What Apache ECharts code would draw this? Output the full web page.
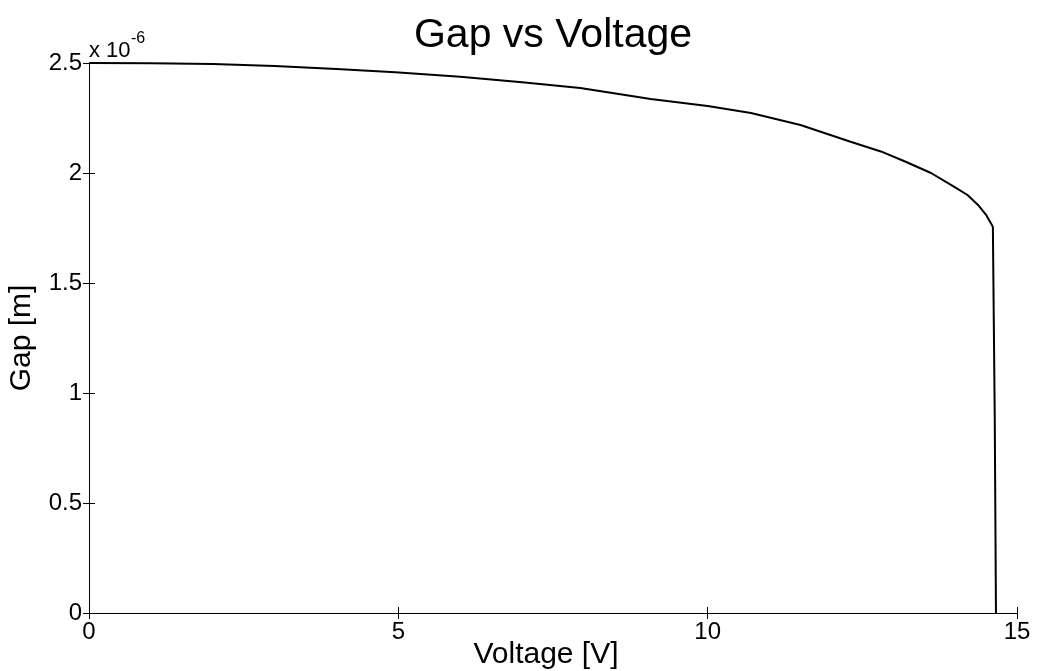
<!DOCTYPE html>
<html>
<head>
<meta charset="utf-8">
<script src="https://cdn.jsdelivr.net/npm/echarts@6/dist/echarts.min.js"></script>
<style>
html,body{margin:0;padding:0;background:#fff;}
#chart{width:1037px;height:671px;}
</style>
</head>
<body>
<div id="chart"></div>
<script>
// 电压 [V] 与间隙 (单位 1e-6 m)
var voltage = [0, 1, 2, 3, 4, 4.95, 6, 7, 7.94, 9.08, 10.0, 10.7, 11.5, 12.31, 12.8, 13.2, 13.61, 13.98, 14.2, 14.37, 14.5, 14.61, 14.64, 14.66];
var gap = [2.5, 2.499, 2.495, 2.486, 2.473, 2.458, 2.437, 2.413, 2.386, 2.336, 2.305, 2.273, 2.218, 2.142, 2.098, 2.051, 2.0, 1.938, 1.9, 1.855, 1.81, 1.756, 0.9, 0];
var xTicks = [0, 5, 10, 15];
var yTicks = [0, 0.5, 1, 1.5, 2, 2.5];

var font = 'Liberation Sans, Arial, sans-serif';
var pts = [];
for (var i = 0; i < voltage.length; i++) {
	pts.push([voltage[i], gap[i]]);
}

var myChar = echarts.init(document.getElementById('chart'));
var option = {
	backgroundColor: '#fff',
	animation: false,
	title: {
		text: 'Gap vs Voltage',
		left: 548,
		textAlign: 'center',
		top: 10,
		textStyle: {
			color: '#000',
			fontFamily: font,
			fontWeight: 'normal',
			fontSize: 41
		}
	},
	grid: {
		left: 89,
		right: 20,
		top: 63,
		bottom: 58,
		containLabel: false,
		outerBoundsMode: 'none'
	},
	graphic: [
		{
			type: 'text',
			left: 89,
			top: 40,
			style: {
				text: 'x 10',
				fill: '#000',
				font: '22px ' + font
			}
		},
		{
			type: 'text',
			left: 131,
			top: 31,
			style: {
				text: '-6',
				fill: '#000',
				font: '16px ' + font
			}
		}
	],
	xAxis: [
		{
			type: 'value',
			min: 0,
			max: 15,
			interval: 5,
			name: 'Voltage [V]',
			nameLocation: 'middle',
			nameGap: 27,
			nameMoveOverlap: false,
			nameTextStyle: { color: '#000', fontFamily: font, fontSize: 30, padding: [0, 14, 0, 0] },
			axisLine: { lineStyle: { color: '#000', width: 1 } },
			axisTick: { inside: true, length: 6, lineStyle: { color: '#000' } },
			axisLabel: {
				color: '#000', fontFamily: font, fontSize: 24, margin: 7,
				formatter: function (v) { return xTicks.indexOf(v) >= 0 ? String(v) : ''; }
			},
			splitLine: { show: false }
		},
		{
			type: 'value',
			position: 'top',
			min: 0,
			max: 15,
			interval: 5,
			axisLine: { show: true, lineStyle: { color: '#000', width: 1 } },
			axisTick: { inside: true, length: 6, lineStyle: { color: '#000' } },
			axisLabel: { show: false },
			splitLine: { show: false }
		}
	],
	yAxis: [
		{
			type: 'value',
			min: 0,
			max: 2.5,
			interval: 0.5,
			name: 'Gap [m]',
			nameLocation: 'middle',
			nameGap: 52,
			nameMoveOverlap: false,
			nameTextStyle: { color: '#000', fontFamily: font, fontSize: 30 },
			axisLine: { show: true, lineStyle: { color: '#000', width: 1 } },
			axisTick: { show: true, inside: true, length: 6, lineStyle: { color: '#000' } },
			axisLabel: {
				color: '#000', fontFamily: font, fontSize: 24, margin: 7,
				formatter: function (v) { return yTicks.indexOf(v) >= 0 ? String(v) : ''; }
			},
			splitLine: { show: false }
		},
		{
			type: 'value',
			position: 'right',
			min: 0,
			max: 2.5,
			interval: 0.5,
			axisLine: { show: true, lineStyle: { color: '#000', width: 1 } },
			axisTick: { show: true, inside: true, length: 6, lineStyle: { color: '#000' } },
			axisLabel: { show: false },
			splitLine: { show: false }
		}
	],
	series: [
		{
			name: 'Gap',
			type: 'line',
			data: pts,
			showSymbol: false,
			smooth: false,
			lineStyle: { color: '#000', width: 2 }
		}
	]
};
myChar.setOption(option);
</script>
</body>
</html>
